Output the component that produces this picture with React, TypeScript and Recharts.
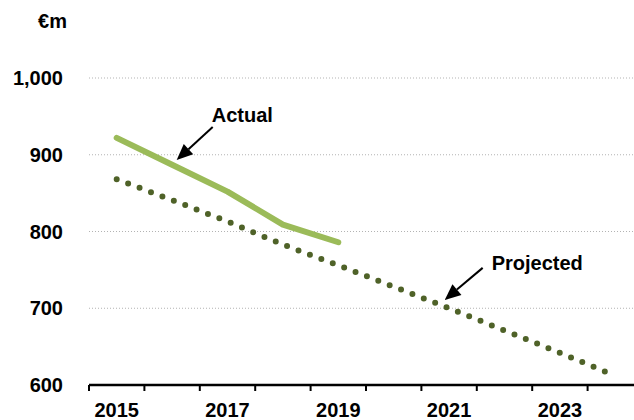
import React from "react";
import {
  LineChart,
  Line,
  XAxis,
  YAxis,
  CartesianGrid,
  ReferenceLine,
  ReferenceDot,
} from "recharts";

const years = [2015, 2016, 2017, 2018, 2019, 2020, 2021, 2022, 2023, 2024];
const actual = [922, 887, 852, 809, 786, null, null, null, null, null];
const projected = [868, 841, 813, 783, 756, 728, 700, 671, 642, 612];

const yTicks = [600, 700, 800, 900, 1000];
const yearLabels = [2015, 2017, 2019, 2021, 2023];
const yearBounds = [
  2014.5, 2015.5, 2016.5, 2017.5, 2018.5, 2019.5, 2020.5, 2021.5, 2022.5,
  2023.5, 2024.5,
];

// call-outs, in data units
const actualNote = {
  text: { x: 2016.715, y: 942.7 },
  from: { x: 2016.733, y: 936.2 },
  to: { x: 2016.083, y: 893.2 },
};
const projectedNote = {
  text: { x: 2021.769, y: 750 },
  from: { x: 2021.606, y: 752.6 },
  to: { x: 2020.921, y: 710.9 },
};

const FONT = "'Liberation Sans', Arial, sans-serif";

const data = years.map((year, i) => ({
  year,
  actual: actual[i],
  projected: projected[i],
}));

const fmt = (v: number) => v.toLocaleString("en-US");

// one axis carries both the band boundary tick marks and the year labels
const YearTick = (props: any) => {
  const { x, y, payload } = props;
  const v = payload.value as number;
  if (v % 1 !== 0) {
    return <line x1={x} y1={y} x2={x} y2={y + 6} stroke="#000" strokeWidth={2} />;
  }
  if (!yearLabels.includes(v)) return null;
  return (
    <text
      x={x}
      y={y + 32}
      textAnchor="middle"
      fontFamily={FONT}
      fontSize={20}
      fontWeight={700}
      fill="#000"
    >
      {v}
    </text>
  );
};

const Arrow = (props: any) => {
  const { x1, y1, x2, y2 } = props;
  const dx = x2 - x1;
  const dy = y2 - y1;
  const len = Math.hypot(dx, dy) || 1;
  const ux = dx / len;
  const uy = dy / len;
  const head = 16;
  const half = 7;
  const bx = x2 - ux * head;
  const by = y2 - uy * head;
  return (
    <g>
      <line x1={x1} y1={y1} x2={bx} y2={by} stroke="#000" strokeWidth={2} />
      <polygon
        points={`${x2},${y2} ${bx - uy * half},${by + ux * half} ${bx + uy * half},${by - ux * half}`}
        fill="#000"
      />
    </g>
  );
};

const noteText = (label: string) => (p: any) => (
  <text
    x={p.cx}
    y={p.cy}
    fontFamily={FONT}
    fontSize={20}
    fontWeight={700}
    fill="#000"
  >
    {label}
  </text>
);

export default function App() {
  return (
    <div
      style={{
        position: "fixed",
        left: 0,
        top: 0,
        width: 634,
        height: 420,
        overflow: "hidden",
        background: "#fff",
      }}
    >
      <LineChart
        width={648}
        height={420}
        data={data}
        margin={{ top: 78, right: 5, left: 0, bottom: 0 }}
      >
        <CartesianGrid vertical={false} stroke="#b3b3b3" strokeDasharray="1 2" />
        <XAxis
          dataKey="year"
          type="number"
          domain={[2014.5, 2024.5]}
          ticks={[...yearBounds, ...yearLabels].sort((a, b) => a - b)}
          interval={0}
          height={35}
          tickSize={0}
          tickMargin={0}
          tickLine={false}
          axisLine={{ stroke: "#000", strokeWidth: 2.5 }}
          tick={<YearTick />}
        />
        <YAxis
          domain={[600, 1000]}
          ticks={yTicks}
          width={89}
          axisLine={false}
          tickLine={false}
          tickSize={0}
          tickMargin={26}
          tickFormatter={fmt}
          tick={{ fill: "#000", fontSize: 20, fontWeight: 700, fontFamily: FONT }}
          label={{
            position: "top",
            content: (p: any) => (
              <text
                x={p.viewBox.x + p.viewBox.width - 22}
                y={28}
                textAnchor="end"
                fontFamily={FONT}
                fontSize={20}
                fontWeight={700}
                fill="#000"
              >
                €m
              </text>
            ),
          }}
        />
        <Line
          type="linear"
          dataKey="projected"
          stroke="#4f6228"
          strokeWidth={6}
          strokeDasharray="0 12.2"
          strokeLinecap="round"
          dot={false}
          activeDot={false}
          isAnimationActive={false}
        />
        <Line
          type="linear"
          dataKey="actual"
          stroke="#9bbb59"
          strokeWidth={6}
          strokeLinecap="round"
          strokeLinejoin="round"
          dot={false}
          activeDot={false}
          isAnimationActive={false}
        />
        <ReferenceLine
          segment={[actualNote.from, actualNote.to]}
          shape={Arrow}
        />
        <ReferenceLine
          segment={[projectedNote.from, projectedNote.to]}
          shape={Arrow}
        />
        <ReferenceDot
          x={actualNote.text.x}
          y={actualNote.text.y}
          r={1}
          shape={noteText("Actual")}
        />
        <ReferenceDot
          x={projectedNote.text.x}
          y={projectedNote.text.y}
          r={1}
          shape={noteText("Projected")}
        />
      </LineChart>
    </div>
  );
}
